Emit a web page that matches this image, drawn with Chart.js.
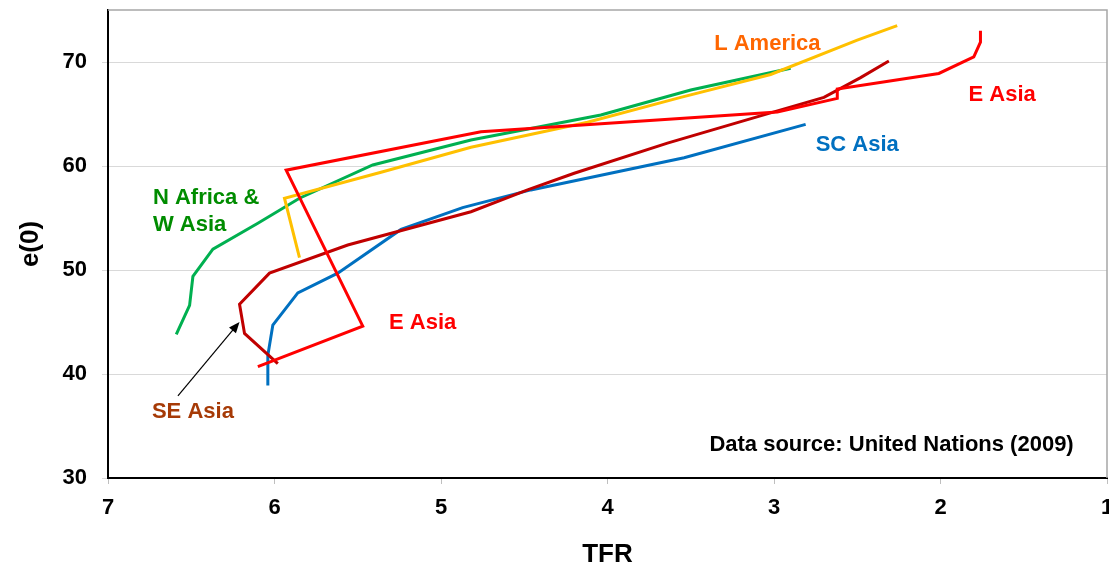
<!DOCTYPE html>
<html>
<head>
<meta charset="utf-8">
<script src="https://cdn.jsdelivr.net/npm/chart.js@4.4.1/dist/chart.umd.min.js"></script>
<style>
html,body{margin:0;padding:0;background:#fff;}
#wrap{width:1109px;height:570px;position:relative;}
</style>
</head>
<body>
<div id="wrap"><canvas id="c" width="1109" height="570"></canvas></div>
<script>
// TFR (x) and e(0) (y) trajectories
const eAsiaTFR   = [6.10, 5.47, 5.93, 4.76, 2.98, 2.62, 2.62, 2.01, 1.80, 1.76, 1.76];
const eAsiaE0    = [40.7, 44.6, 59.6, 63.3, 65.2, 66.5, 67.4, 68.9, 70.5, 71.9, 73.0];
const seAsiaTFR  = [5.98, 6.18, 6.21, 6.03, 5.56, 4.82, 4.48, 4.20, 3.64, 3.00, 2.70, 2.48, 2.31];
const seAsiaE0   = [41.0, 43.9, 46.7, 49.7, 52.4, 55.6, 57.7, 59.3, 62.2, 65.2, 66.6, 68.5, 70.1];
const scAsiaTFR  = [6.04, 6.04, 6.01, 5.86, 5.62, 5.24, 4.87, 4.46, 3.54, 2.81];
const scAsiaE0   = [38.9, 41.8, 44.7, 47.8, 49.7, 53.9, 56.0, 57.7, 60.8, 64.0];
const lAmTFR     = [5.85, 5.94, 5.36, 4.82, 4.12, 3.56, 3.02, 2.50, 2.26];
const lAmE0      = [51.2, 56.9, 59.4, 61.8, 64.2, 66.6, 68.8, 72.1, 73.5];
const nafTFR     = [6.59, 6.51, 6.49, 6.37, 6.10, 5.85, 5.41, 4.82, 4.04, 3.50, 2.90];
const nafE0      = [43.8, 46.6, 49.4, 52.0, 54.5, 56.9, 60.1, 62.5, 64.9, 67.3, 69.4];

const xTicks = [7, 6, 5, 4, 3, 2, 1];
const yTicks = [30, 40, 50, 60, 70];

// annotation labels [text, tfr, e0, color, align]
const labels = [
  ["L America", 3.04, 71.7, "#FF6600", "center"],
  ["E Asia", 1.63, 66.8, "#FF0000", "center"],
  ["SC Asia", 2.50, 62.0, "#0070C0", "center"],
  ["N Africa &", 6.73, 56.9, "#008C00", "left"],
  ["W Asia", 6.73, 54.3, "#008C00", "left"],
  ["E Asia", 5.11, 44.9, "#FF0000", "center"],
  ["SE Asia", 6.49, 36.4, "#A63A06", "center"],
  ["Data source: United Nations (2009)", 1.20, 33.2, "#000000", "right"]
];
const arrow = {fromTFR: 6.58, fromE0: 37.9, toTFR: 6.21, toE0: 45.0};

function pts(xs, ys){ return xs.map((x,i)=>({x:x, y:ys[i]})); }

const FONT = "'Liberation Sans', Arial, sans-serif";

const annot = {
  id: 'annot',
  beforeDatasetsDraw(chart){
    const {ctx, chartArea:a} = chart;
    ctx.save();
    ctx.strokeStyle = '#a6a6a6';
    ctx.lineWidth = 1.5;
    ctx.beginPath();
    ctx.moveTo(a.left, a.top); ctx.lineTo(a.right, a.top); ctx.lineTo(a.right, a.bottom);
    ctx.stroke();
    ctx.restore();
  },
  afterDatasetsDraw(chart){
    const {ctx} = chart;
    const xs = chart.scales.x, ys = chart.scales.y;
    ctx.save();
    ctx.font = "bold 22px " + FONT;
    ctx.textBaseline = 'middle';
    labels.forEach(l => {
      ctx.fillStyle = l[3];
      ctx.textAlign = l[4];
      ctx.fillText(l[0], xs.getPixelForValue(l[1]), ys.getPixelForValue(l[2]));
    });
    const x1 = xs.getPixelForValue(arrow.fromTFR), y1 = ys.getPixelForValue(arrow.fromE0);
    const x2 = xs.getPixelForValue(arrow.toTFR), y2 = ys.getPixelForValue(arrow.toE0);
    const ang = Math.atan2(y2 - y1, x2 - x1);
    ctx.strokeStyle = '#000'; ctx.fillStyle = '#000'; ctx.lineWidth = 1.2;
    ctx.beginPath(); ctx.moveTo(x1, y1);
    ctx.lineTo(x2 - 8*Math.cos(ang), y2 - 8*Math.sin(ang)); ctx.stroke();
    ctx.beginPath();
    ctx.moveTo(x2, y2);
    ctx.lineTo(x2 - 11*Math.cos(ang) + 4.5*Math.sin(ang), y2 - 11*Math.sin(ang) - 4.5*Math.cos(ang));
    ctx.lineTo(x2 - 11*Math.cos(ang) - 4.5*Math.sin(ang), y2 - 11*Math.sin(ang) + 4.5*Math.cos(ang));
    ctx.closePath(); ctx.fill();
    ctx.restore();
  }
};

const ds = (label, xs, ys, color) => ({
  label, data: pts(xs, ys), showLine: true, borderColor: color, backgroundColor: color,
  borderWidth: 3, pointRadius: 0, tension: 0, fill: false
});

new Chart(document.getElementById('c'), {
  type: 'scatter',
  data: {
    datasets: [
      ds('E Asia', eAsiaTFR, eAsiaE0, '#FF0000'),
      ds('SE Asia', seAsiaTFR, seAsiaE0, '#C00000'),
      ds('SC Asia', scAsiaTFR, scAsiaE0, '#0070C0'),
      ds('L America', lAmTFR, lAmE0, '#FFC000'),
      ds('N Africa & W Asia', nafTFR, nafE0, '#00B050')
    ]
  },
  options: {
    responsive: false,
    animation: false,
    devicePixelRatio: 1,
    layout: {padding: {left: 0, right: 2, top: 10, bottom: 0}},
    plugins: {legend: {display: false}, tooltip: {enabled: false}},
    scales: {
      x: {
        type: 'linear', reverse: true, min: 1, max: 7,
        afterBuildTicks(s){ s.ticks = xTicks.map(v => ({value: v})); },
        afterFit(s){ s.height = 92; s.paddingLeft = 0; s.paddingRight = 0; },
        ticks: {stepSize: 1, color: '#000', padding: 11, font: {family: FONT, size: 22, weight: 'bold'}},
        grid: {drawOnChartArea: false, drawTicks: true, tickLength: 6, color: '#bfbfbf'},
        border: {display: true, color: '#000', width: 2},
        title: {display: true, text: 'TFR', color: '#000', padding: {top: 0, bottom: 0},
                font: {family: FONT, size: 26, weight: 'bold'}}
      },
      y: {
        type: 'linear', min: 30, max: 75,
        afterBuildTicks(s){ s.ticks = yTicks.map(v => ({value: v})); },
        afterFit(s){ s.width = 108; s.paddingTop = 0; s.paddingBottom = 0; },
        ticks: {stepSize: 10, includeBounds: false, color: '#000', padding: 15, font: {family: FONT, size: 22, weight: 'bold'}},
        grid: {drawOnChartArea: true, drawTicks: true, tickLength: 6, color: '#d9d9d9', lineWidth: 1},
        border: {display: true, color: '#000', width: 2},
        title: {display: true, text: 'e(0)', color: '#000', padding: {top: 15, bottom: 0},
                font: {family: FONT, size: 26, weight: 'bold'}}
      }
    }
  },
  plugins: [annot]
});
</script>
</body>
</html>
